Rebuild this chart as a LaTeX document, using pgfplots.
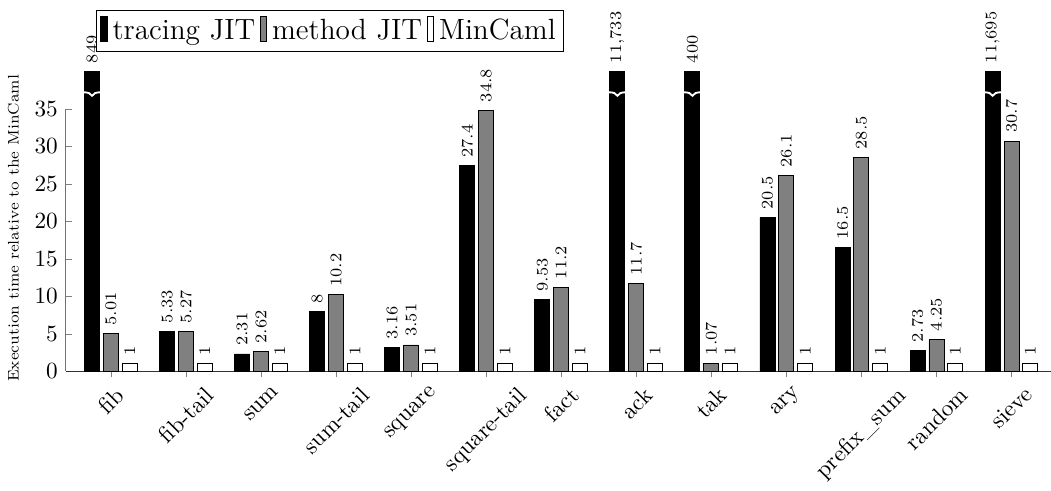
\documentclass[border=0pt]{standalone}
\usepackage{graphicx}
\usepackage{pgfplots}
\pgfplotsset{compat=1.18}
\pgfdeclareplotmark{brk}{%
  \pgfpathmoveto{\pgfqpoint{-3.7pt}{0.7pt}}%
  \pgfpathcurveto{\pgfqpoint{-1.8pt}{0.7pt}}{\pgfqpoint{-0.5pt}{0.3pt}}{\pgfqpoint{0pt}{-0.8pt}}%
  \pgfpathcurveto{\pgfqpoint{0.5pt}{0.3pt}}{\pgfqpoint{1.8pt}{0.7pt}}{\pgfqpoint{3.7pt}{0.7pt}}%
  \pgfusepathqstroke}
\begin{document}
\begin{tikzpicture}
\begin{axis}[
  scale only axis,
  width=424pt, height=113pt,
  xmin=-0.6, xmax=12.52, ymin=0, ymax=35,
  clip=false,
  /pgf/number format/1000 sep={\mbox{,}},
  axis x line*=bottom, axis y line*=left,
  axis line style={-},
  x axis line style={black!80},
  y axis line style={black!55},
  tick style={black!50},
  major tick length=2.5pt,
  xtick align=outside,
  ytick align=inside,
  xtick={0,...,12},
  xticklabels={\rotatebox{45}{fib},\rotatebox{45}{fib-tail},\rotatebox{45}{sum},\rotatebox{45}{sum-tail},
    \rotatebox{45}{square},\rotatebox{45}{square-tail},\rotatebox{45}{fact},\rotatebox{45}{ack},
    \rotatebox{45}{tak},\rotatebox{45}{ary},\rotatebox{45}{prefix\_sum},\rotatebox{45}{random},\rotatebox{45}{sieve}},
  x tick label style={anchor=north},
  ytick={0,5,...,35},
  ylabel={Execution time relative to the MinCaml},
  ylabel style={font=\fontsize{6.6}{8}\selectfont, at={(axis description cs:-0.0535,0.545)}, anchor=center},
  mybar/.style={ybar, bar width=6.46pt, draw=black, point meta=explicit, nodes near coords,
    legend image code/.code={\draw[##1] (0pt,-0.45em) rectangle (0.28em,0.6em);}},
  lbl/.style={every node near coord/.style={font=\scriptsize, xshift=#1, rotate=90, anchor=west}},
  legend columns=-1,
  legend style={at={(axis description cs:0.031,1.376)}, anchor=north west,
    draw=black, font=\fontsize{12.6}{15}\selectfont, inner sep=1.5pt},
]
\addplot[mybar, bar shift=-8.14pt, fill=black, lbl=-8.14pt] coordinates {
 (0,40)[849] (1,5.33)[5.33] (2,2.31)[2.31] (3,8)[8] (4,3.16)[3.16] (5,27.4)[27.4]
 (6,9.53)[9.53] (7,40)[11733] (8,40)[400] (9,20.5)[20.5] (10,16.5)[16.5] (11,2.73)[2.73] (12,40)[11695]};
\addlegendentry{tracing JIT}
\addplot[mybar, bar shift=0pt, fill=gray, lbl=0pt] coordinates {
 (0,5.01)[5.01] (1,5.27)[5.27] (2,2.62)[2.62] (3,10.2)[10.2] (4,3.51)[3.51] (5,34.8)[34.8]
 (6,11.2)[11.2] (7,11.7)[11.7] (8,1.07)[1.07] (9,26.1)[26.1] (10,28.5)[28.5] (11,4.25)[4.25] (12,30.7)[30.7]};
\addlegendentry{method JIT}
\addplot[mybar, bar shift=8.14pt, fill=white, lbl=8.14pt] coordinates {
 (0,1)[1] (1,1)[1] (2,1)[1] (3,1)[1] (4,1)[1] (5,1)[1]
 (6,1)[1] (7,1)[1] (8,1)[1] (9,1)[1] (10,1)[1] (11,1)[1] (12,1)[1]};
\addlegendentry{MinCaml}
\addplot[only marks, mark=brk, draw=white, line width=0.8pt, forget plot] coordinates {
 (-0.252,37) (6.748,37) (7.748,37) (11.748,37)};
\end{axis}
\path ([yshift=1.7pt]current bounding box.north);
\end{tikzpicture}
\end{document}
